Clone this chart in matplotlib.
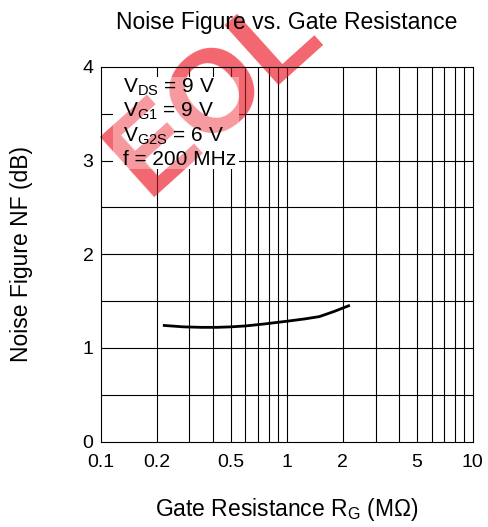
import matplotlib
matplotlib.use("Agg")
import matplotlib.pyplot as plt
from matplotlib.patches import Rectangle
from matplotlib.ticker import FixedLocator, NullFormatter

plt.rcParams['font.family'] = ['Liberation Sans', 'DejaVu Sans']

# curve
rg = [0.22, 0.28, 0.35, 0.42, 0.5, 0.6, 0.75, 1.0, 1.25, 1.5, 1.8, 2.15]
nf = [1.24, 1.225, 1.22, 1.22, 1.225, 1.235, 1.255, 1.285, 1.31, 1.335, 1.39, 1.45]

x_ticks = [0.1, 0.2, 0.5, 1, 2, 5, 10]
x_tick_labels = ["0.1", "0.2", "0.5", "1", "2", "5", "10"]
y_ticks = [0, 1, 2, 3, 4]
grid_x = [0.2, 0.3, 0.4, 0.5, 0.6, 0.7, 0.8, 0.9, 1, 2, 3, 4, 5, 6, 7, 8, 9]
grid_y = [0.5, 1, 1.5, 2, 2.5, 3, 3.5]

conditions = ["$\\mathregular{V_{DS}}$ = 9 V",
              "$\\mathregular{V_{G1}}$ = 9 V",
              "$\\mathregular{V_{G2S}}$ = 6 V",
              "f = 200 MHz"]

fig = plt.figure(figsize=(4.88, 5.27), dpi=100)
ax = fig.add_axes([0.206, 0.162, 0.763, 0.711])

ax.set_xscale("log")
ax.set_xlim(0.1, 10)
ax.set_ylim(0, 4)

for gx in grid_x:
    ax.axvline(gx, color="black", lw=0.8, zorder=1)
for gy in grid_y:
    ax.axhline(gy, color="black", lw=0.8, zorder=1)

# white patch behind the conditions text
box = Rectangle((0.033, 0.727), 0.34, 0.247, transform=ax.transAxes,
                facecolor="white", edgecolor="none", zorder=2)
ax.add_patch(box)

# watermark: under the grid, and again on top of the white patch
wm_kw = dict(rotation=42, fontsize=84, fontweight="bold", color="#ee3440",
             alpha=0.5, ha="center", va="center", transform=fig.transFigure,
             clip_on=False)
ax.text(0.44, 0.82, "EOL", zorder=0.5, **wm_kw)
wm2 = ax.text(0.44, 0.82, "EOL", zorder=2.5, **wm_kw)
wm2.set_clip_path(box)

ax.plot(rg, nf, color="black", lw=2, zorder=3)

ax.xaxis.set_major_locator(FixedLocator(x_ticks))
ax.set_xticklabels(x_tick_labels)
ax.xaxis.set_minor_formatter(NullFormatter())
ax.tick_params(which="both", length=0, labelsize=14)
ax.tick_params(axis="x", pad=9)
ax.tick_params(axis="y", pad=5)
ax.set_yticks(y_ticks)

for s in ax.spines.values():
    s.set_linewidth(0.8)

ax.text(0.06, 0.975, "\n".join(conditions), transform=ax.transAxes,
        fontsize=15, va="top", ha="left", linespacing=1.2, zorder=4)

ax.set_title("Noise Figure vs. Gate Resistance", fontsize=16.5, pad=27)
ax.set_xlabel("Gate Resistance $\\mathregular{R_G}$ (M\u03a9)", fontsize=16.5, labelpad=18)
ax.set_ylabel("Noise Figure NF (dB)", fontsize=16.5, labelpad=36)

fig.savefig("out.png", dpi=100)
